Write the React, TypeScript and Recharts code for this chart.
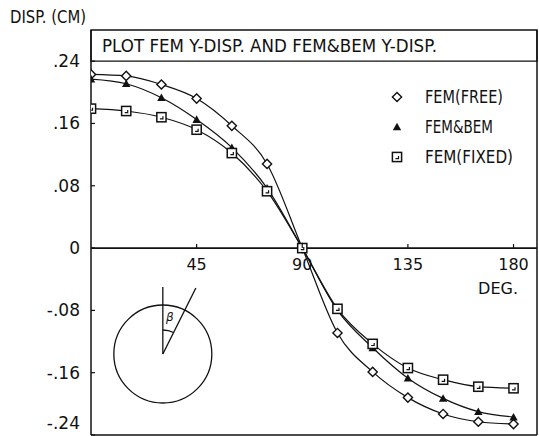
import { LineChart, Line, XAxis, YAxis, ReferenceLine, ReferenceArea, ReferenceDot, Legend } from "recharts";

// angle (deg) vs Y-displacement (cm)
const ANGLES = [0, 15, 30, 45, 60, 75, 90, 105, 120, 135, 150, 165, 180];
const FEM_FREE = [0.223, 0.221, 0.21, 0.192, 0.157, 0.108, 0, -0.109, -0.159, -0.192, -0.213, -0.223, -0.226];
const FEM_BEM = [0.217, 0.211, 0.193, 0.165, 0.129, 0.077, 0, -0.08, -0.128, -0.167, -0.193, -0.21, -0.217];
const FEM_FIXED = [0.179, 0.176, 0.168, 0.152, 0.122, 0.073, 0, -0.078, -0.123, -0.154, -0.169, -0.178, -0.18];

const X_TICKS = [45, 90, 135, 180];
const Y_TICKS = [-0.24, -0.16, -0.08, 0, 0.08, 0.16, 0.24];
const X_DOMAIN = [0, 190];
const Y_DOMAIN = [-0.24, 0.28];

const TITLE = "PLOT FEM Y-DISP. AND FEM&BEM Y-DISP.";
const Y_LABEL = "DISP. (CM)";
const X_LABEL = "DEG.";

const W = 539;
const H = 436;
const MARGIN = { top: 30, right: 2, bottom: 0, left: 0 };
const Y_AXIS_W = 91;
const X_AXIS_H = 1;
const PLOT_H = H - MARGIN.top - MARGIN.bottom - X_AXIS_H;
const ZERO_FROM_BOTTOM = (PLOT_H * (0 - Y_DOMAIN[0])) / (Y_DOMAIN[1] - Y_DOMAIN[0]);
const FONT = "'DejaVu Sans', sans-serif";
const INK = "#111";

const data = ANGLES.map((a, i) => ({
  angle: a,
  free: FEM_FREE[i],
  bem: FEM_BEM[i],
  fixed: FEM_FIXED[i],
}));

function Diamond({ cx, cy }: any) {
  const r = 4.6;
  return (
    <path
      d={`M${cx},${cy - r}L${cx + r},${cy}L${cx},${cy + r}L${cx - r},${cy}Z`}
      fill="#fff"
      stroke={INK}
      strokeWidth={1.4}
    />
  );
}

function Triangle({ cx, cy }: any) {
  const r = 4.2;
  return <path d={`M${cx},${cy - r}L${cx + r},${cy + r * 0.8}L${cx - r},${cy + r * 0.8}Z`} fill={INK} />;
}

function Square({ cx, cy }: any) {
  const r = 4.6;
  return (
    <g>
      <rect x={cx - r} y={cy - r} width={r * 2} height={r * 2} fill="#fff" stroke={INK} strokeWidth={1.5} />
      <path d={`M${cx + 1.5},${cy - 1}L${cx + 1.5},${cy + 1.6}L${cx - 1.5},${cy + 1.6}`} fill="none" stroke={INK} strokeWidth={1.2} />
    </g>
  );
}

const SERIES = [
  { key: "free", name: "FEM(FREE)", Marker: Diamond, width: 78 },
  { key: "bem", name: "FEM&BEM", Marker: Triangle, width: 68 },
  { key: "fixed", name: "FEM(FIXED)", Marker: Square, width: 88 },
];

function fmtY(v: number) {
  if (v === 0) return "0";
  return (v < 0 ? "-" : "") + Math.abs(v).toFixed(2).slice(1);
}

function YTick({ x, y, payload }: any) {
  // keep the bottom label inside the picture
  const ty = Math.min(y, H - 13);
  return (
    <g>
      <text x={x} y={ty} textAnchor="end" dominantBaseline="central" fontSize={17} fontFamily={FONT} fill={INK}>
        {fmtY(payload.value)}
      </text>
      <line x1={x + 11} x2={x + 15} y1={y} y2={y} stroke={INK} strokeWidth={1.2} />
    </g>
  );
}

function XTick({ x, y, payload }: any) {
  const zeroY = y - ZERO_FROM_BOTTOM;
  return (
    <g>
      <line x1={x} x2={x} y1={zeroY} y2={zeroY - 4} stroke={INK} strokeWidth={1.2} />
      <text x={x} y={zeroY + 16} textAnchor="middle" dominantBaseline="central" fontSize={16} fontFamily={FONT} fill={INK}>
        {payload.value}
      </text>
    </g>
  );
}

function Inset({ cx, cy }: any) {
  const r = 49;
  return (
    <g fill="none" stroke={INK} strokeWidth={1.3}>
      <circle cx={cx} cy={cy} r={r} />
      <line x1={cx} y1={cy} x2={cx} y2={cy - 67} />
      <line x1={cx} y1={cy} x2={cx + 33} y2={cy - 66} />
      <path d={`M${cx},${cy - 24}A24,24 0 0 1 ${cx + 10.7},${cy - 21.5}`} />
      <text x={cx + 7} y={cy - 33} fontSize={12} fontStyle="italic" fontFamily={FONT} fill={INK} stroke="none" textAnchor="middle">
        β
      </text>
    </g>
  );
}

function LegendContent() {
  return (
    <svg width={150} height={92} style={{ display: "block" }}>
      {SERIES.map((s, i) => {
        const y = 15 + i * 30;
        const M = s.Marker;
        return (
          <g key={s.key}>
            <M cx={12} cy={y} />
            <text
              x={40}
              y={y}
              dominantBaseline="central"
              fontSize={17}
              fontFamily={FONT}
              fill={INK}
              textLength={s.width}
              lengthAdjust="spacingAndGlyphs"
            >
              {s.name}
            </text>
          </g>
        );
      })}
    </svg>
  );
}

export default function App() {
  return (
    <div style={{ position: "absolute", left: 0, top: 0, width: W, height: H, background: "#fff" }}>
      <LineChart width={W} height={H} data={data} margin={MARGIN}>
        <XAxis
          dataKey="angle"
          type="number"
          domain={X_DOMAIN}
          ticks={X_TICKS}
          interval={0}
          height={X_AXIS_H}
          tickSize={0}
          tickMargin={0}
          tickLine={false}
          tick={<XTick />}
          axisLine={{ stroke: INK, strokeWidth: 1.5 }}
          allowDataOverflow
        />
        <YAxis
          type="number"
          domain={Y_DOMAIN}
          ticks={Y_TICKS}
          interval={0}
          width={Y_AXIS_W}
          tickSize={0}
          tickMargin={11}
          tickLine={false}
          tick={<YTick />}
          axisLine={{ stroke: INK, strokeWidth: 1.5 }}
          allowDataOverflow
          label={{
            content: ({ viewBox }: any) => (
              <text
                x={(viewBox?.x ?? 0) + 10}
                y={(viewBox?.y ?? 30) - 13}
                dominantBaseline="central"
                fontSize={17}
                fontFamily={FONT}
                fill={INK}
                textLength={76}
                lengthAdjust="spacingAndGlyphs"
              >
                {Y_LABEL}
              </text>
            ),
          }}
        />
        <ReferenceArea
          y1={0.24}
          y2={0.28}
          fill="#fff"
          fillOpacity={1}
          stroke={INK}
          strokeWidth={1.4}
          label={{
            content: ({ viewBox }: any) => (
              <text
                x={(viewBox?.x ?? 91) + 11}
                y={(viewBox?.y ?? 30) + (viewBox?.height ?? 31) / 2}
                dominantBaseline="central"
                fontSize={17}
                fontFamily={FONT}
                fill={INK}
                textLength={335}
                lengthAdjust="spacingAndGlyphs"
              >
                {TITLE}
              </text>
            ),
          }}
        />
        <ReferenceLine x={190} stroke={INK} strokeWidth={1.5} />
        <ReferenceLine
          y={0}
          stroke={INK}
          strokeWidth={1.6}
          label={{
            content: ({ viewBox }: any) => (
              <text
                x={(viewBox?.x ?? 91) + (viewBox?.width ?? 446) - 19}
                y={(viewBox?.y ?? 248) + 40}
                textAnchor="end"
                dominantBaseline="central"
                fontSize={16}
                fontFamily={FONT}
                fill={INK}
              >
                {X_LABEL}
              </text>
            ),
          }}
        />
        <ReferenceDot x={30.6} y={-0.136} r={49} shape={(p: any) => <Inset cx={p.cx} cy={p.cy} />} />
        {SERIES.map((s) => (
          <Line
            key={s.key}
            dataKey={s.key}
            name={s.name}
            type="monotone"
            stroke={INK}
            strokeWidth={1.2}
            isAnimationActive={false}
            dot={(p: any) => <s.Marker key={`${s.key}-${p.index}`} cx={p.cx} cy={p.cy} />}
            activeDot={false}
          />
        ))}
        <Legend
          layout="vertical"
          align="center"
          verticalAlign="middle"
          width={150}
          height={92}
          wrapperStyle={{ left: 385, top: 82, width: 150, height: 92 }}
          content={<LegendContent />}
        />
      </LineChart>
    </div>
  );
}
